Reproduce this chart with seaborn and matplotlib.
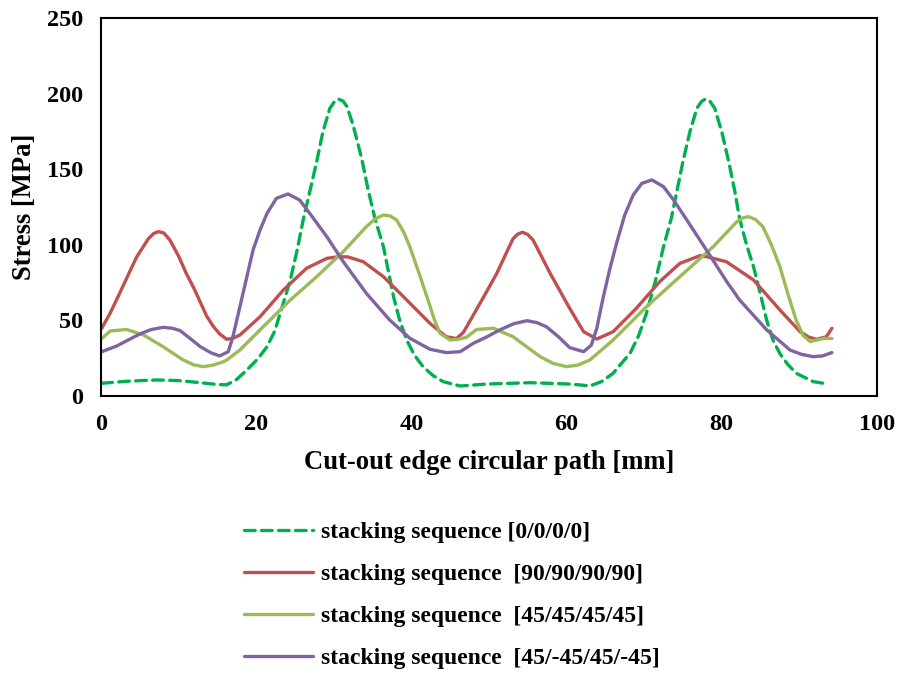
import numpy as np
import pandas as pd
import matplotlib
matplotlib.use("Agg")
import matplotlib.pyplot as plt
import seaborn as sns

# Stress along the cut-out edge for four stacking sequences
labels = [
    "stacking sequence [0/0/0/0]",
    "stacking sequence  [90/90/90/90]",
    "stacking sequence  [45/45/45/45]",
    "stacking sequence  [45/-45/45/-45]",
]

x_0 = [0.1, 3.5, 7.2, 10.0, 12.8, 15.0, 16.2, 17.5, 18.8, 20.2, 21.4, 22.4, 23.1,
       24.4, 25.3, 26.1, 26.9, 27.8, 28.6, 29.5, 30.1, 30.6, 31.2, 31.7, 32.5,
       33.6, 34.4, 35.3, 36.4, 37.7, 38.5, 39.4, 40.4, 41.5, 42.8, 44.1, 46.3,
       49.7, 55.3, 60.4, 62.0, 63.0, 64.5, 66.0, 68.2, 69.3, 70.3, 71.4, 72.5,
       73.5, 74.2, 75.0, 75.9, 76.8, 77.4, 77.9, 78.5, 79.1, 80.0, 80.9, 81.7,
       82.3, 83.2, 84.1, 85.0, 85.8, 86.6, 87.5, 88.5, 89.6, 91.8, 93.7]
y_0 = [8.4, 9.8, 10.6, 10.2, 8.8, 7.6, 7.4, 11.0, 17.2, 24.5, 32.6, 43.0, 54.8,
       76.7, 97.0, 117.5, 135.0, 155.0, 174.8, 190.3, 194.8, 196.4, 195.0, 191.4, 179.0,
       157.0, 137.0, 117.5, 98.7, 65.7, 50.0, 37.0, 27.0, 19.4, 13.5, 9.5, 6.6,
       7.9, 8.8, 7.9, 7.2, 6.6, 9.5, 15.0, 28.4, 40.0, 54.7, 75.0, 98.7,
       117.5, 135.0, 155.0, 174.8, 190.3, 194.8, 196.4, 194.8, 190.3, 174.8, 155.0, 135.0,
       117.5, 100.0, 85.5, 67.0, 50.0, 37.0, 28.0, 21.0, 15.0, 9.5, 7.9]

x_90 = [0.1, 1.2, 2.4, 3.5, 4.6, 6.1, 6.8, 7.4, 8.1, 8.9, 10.0, 11.0, 12.0, 12.8,
        13.6, 14.5, 15.3, 16.2, 17.0, 17.9, 20.5, 23.5, 26.5, 29.1, 30.6, 31.8, 33.8,
        36.4, 39.4, 42.4, 44.5, 45.8, 46.7, 47.6, 49.7, 51.0, 53.1, 53.7, 54.3,
        55.0, 55.7, 57.9, 60.4, 62.2, 63.9, 66.0, 69.0, 72.0, 74.6, 77.2, 78.1,
        80.6, 84.1, 87.5, 90.1, 91.2, 92.2, 93.5, 94.2]
y_90 = [44.8, 55.0, 67.9, 80.0, 92.0, 104.0, 107.5, 108.7, 107.8, 103.0, 92.5, 81.0, 71.0, 62.0,
        53.0, 45.8, 41.0, 37.5, 38.2, 40.3, 52.4, 70.1, 84.5, 91.0, 92.1, 92.0, 88.8,
        78.9, 63.5, 48.0, 39.2, 38.0, 42.0, 50.0, 69.0, 81.0, 104.0, 107.0, 108.3,
        106.8, 103.0, 81.0, 58.0, 42.5, 37.7, 42.5, 58.0, 75.6, 87.7, 92.8, 92.1,
        88.8, 76.7, 56.9, 42.5, 39.0, 37.5, 39.2, 44.8]

x_45 = [0.1, 1.2, 3.3, 5.5, 8.0, 10.6, 12.0, 13.2, 14.5, 15.8, 16.2, 17.9, 20.9,
        24.4, 27.8, 31.2, 34.2, 35.3, 36.4, 37.3, 38.1, 39.0, 39.8, 41.0, 42.0,
        43.0, 43.7, 45.0, 46.0, 47.1, 48.4, 50.6, 53.1, 56.6, 58.3, 60.0, 61.5,
        63.0, 66.0, 70.3, 74.6, 78.9, 81.9, 82.7, 83.5, 84.4, 85.3, 86.4, 87.5,
        88.5, 89.6, 90.5, 91.4, 93.1, 94.2]
y_45 = [38.0, 43.0, 44.0, 40.3, 32.6, 23.8, 20.5, 19.4, 20.5, 22.7, 23.8, 30.4, 45.8,
        63.5, 78.9, 95.4, 112.0, 117.0, 119.7, 119.0, 116.4, 108.5, 98.7, 81.0, 65.7,
        50.0, 41.4, 37.0, 37.5, 38.8, 44.0, 44.8, 39.2, 26.0, 21.5, 19.4, 20.5,
        23.8, 37.0, 59.0, 78.9, 98.7, 115.0, 117.8, 118.6, 116.5, 112.0, 100.0, 85.5,
        68.0, 50.0, 40.0, 36.0, 38.0, 38.0]

x_pm45 = [0.1, 2.0, 5.0, 6.5, 8.0, 9.2, 10.2, 11.5, 12.8, 14.2, 15.3, 16.4, 17.0,
          17.9, 18.8, 19.6, 20.5, 21.4, 22.6, 24.1, 25.6, 26.9, 29.1, 31.2, 34.2,
          37.2, 39.8, 42.4, 44.5, 46.3, 48.0, 49.5, 51.4, 53.2, 54.9, 56.2, 57.4,
          59.0, 60.4, 62.2, 63.2, 63.9, 64.7, 65.6, 66.5, 67.5, 68.6, 69.7, 71.0,
          72.5, 73.8, 75.5, 78.3, 80.6, 82.3, 85.8, 88.8, 90.3, 91.8, 93.0, 94.2]
y_pm45 = [29.3, 33.0, 41.0, 44.0, 45.4, 44.8, 43.2, 38.0, 32.6, 28.5, 26.5, 29.3, 39.2,
          59.0, 78.9, 96.6, 109.8, 120.8, 130.7, 133.6, 129.6, 120.8, 105.4, 89.0, 67.9,
          50.3, 38.2, 30.9, 28.7, 29.3, 34.9, 38.5, 43.7, 47.8, 49.8, 48.5, 45.8,
          39.0, 32.0, 29.3, 33.7, 44.8, 64.6, 84.5, 102.0, 119.7, 133.0, 140.6, 142.9,
          138.4, 129.6, 116.4, 94.4, 76.0, 63.5, 43.7, 30.4, 27.5, 26.0, 26.5, 28.7]

colors = ["#00B050", "#C0504D", "#9BBB59", "#8064A2"]

series = [(x_0, y_0), (x_90, y_90), (x_45, y_45), (x_pm45, y_pm45)]
df = pd.concat(
    [pd.DataFrame({"path": xs, "stress": ys, "seq": lab})
     for (xs, ys), lab in zip(series, labels)],
    ignore_index=True,
)

sns.set_style("white")
plt.rcParams["font.family"] = ["Liberation Serif", "DejaVu Serif"]
plt.rcParams["font.weight"] = "bold"
plt.rcParams["text.color"] = "black"
plt.rcParams["axes.labelcolor"] = "black"
plt.rcParams["xtick.color"] = "black"
plt.rcParams["ytick.color"] = "black"

fig = plt.figure(figsize=(8.97, 6.73), dpi=100)
ax = fig.add_axes([0.1126, 0.4116, 0.8650, 0.5617])

dash_map = {labels[0]: (3.2, 1.9), labels[1]: "", labels[2]: "", labels[3]: ""}
sns.lineplot(data=df, x="path", y="stress", hue="seq", style="seq",
             palette=dict(zip(labels, colors)), dashes=dash_map,
             hue_order=labels, style_order=labels, sort=False,
             linewidth=2.4, ax=ax, legend=True)

for ln in ax.get_lines():
    ln.set_dash_capstyle("round")
    ln.set_solid_capstyle("round")
    ln.set_solid_joinstyle("round")
    ln.set_dash_joinstyle("round")

ax.set_xlim(0, 100)
ax.set_ylim(0, 250)
ax.set_xticks([0, 20, 40, 60, 80, 100])
ax.set_yticks([0, 50, 100, 150, 200, 250])
ax.tick_params(axis="both", direction="out", length=6, width=1.5,
               labelsize=17.5, pad=7, color="black", labelcolor="black")
for lab in ax.get_xticklabels() + ax.get_yticklabels():
    lab.set_fontweight("bold")
for sp in ax.spines.values():
    sp.set_visible(True)
    sp.set_color("black")
    sp.set_linewidth(1.5)

ax.set_xlabel("Cut-out edge circular path [mm]", fontsize=19.2,
              fontweight="bold", labelpad=11)
ax.set_ylabel("Stress [MPa]", fontsize=19.2, fontweight="bold", labelpad=7)

handles, hlabels = ax.get_legend_handles_labels()
ax.get_legend().remove()
fig.legend(handles, hlabels, loc="upper left", bbox_to_anchor=(0.2486, 0.257),
           frameon=False, handlelength=2.9, handletextpad=0.35,
           labelspacing=0.87, prop={"family": "Liberation Serif",
                                    "weight": "bold", "size": 17})

fig.savefig("out.png", dpi=100)
